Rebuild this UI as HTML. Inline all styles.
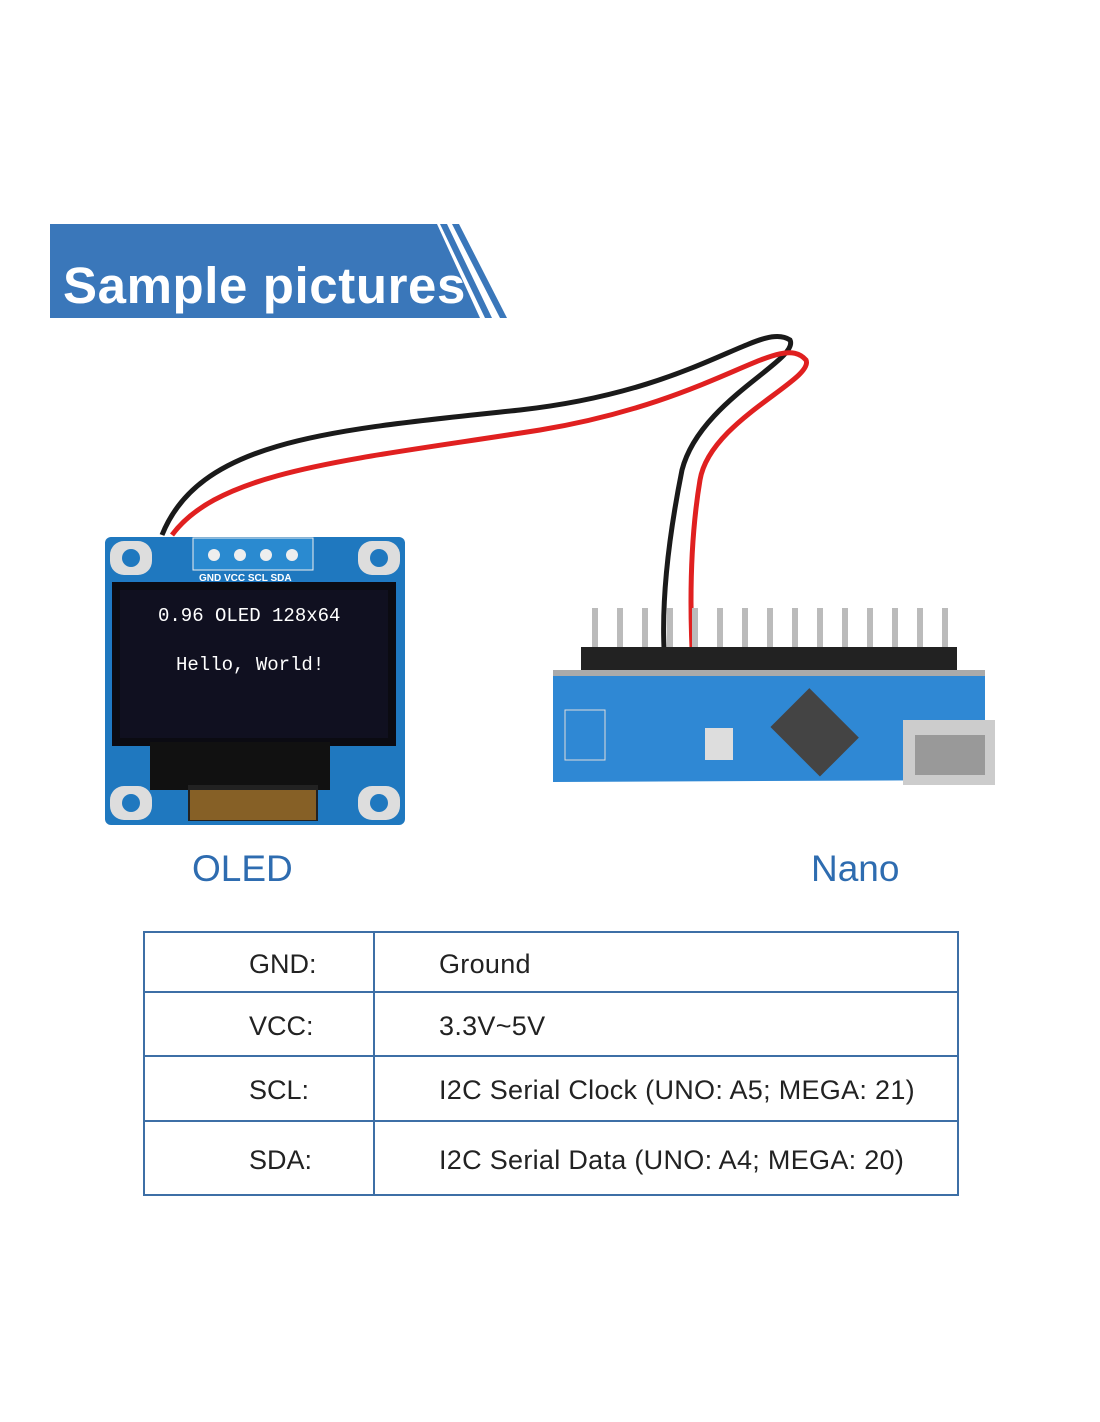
<!DOCTYPE html>
<html><head><meta charset="utf-8"><style>
body{margin:0;width:1100px;height:1422px;background:#fff;position:relative;overflow:hidden;font-family:"Liberation Sans",sans-serif}
.a{position:absolute}
table{position:absolute;left:143px;top:931px;width:816px;height:263px;border-collapse:collapse}
td{border:2px solid #3d6fa6;font-size:27px;color:#222;padding:0;padding-top:4px}
td.l{width:230px;padding-left:104px;box-sizing:border-box}
td.r{padding-left:64px;letter-spacing:0.3px}
</style></head><body>
<svg class="a" style="left:0;top:0" width="1100" height="1422">
<polygon points="50,224 437,224 480,318 50,318" fill="#3a77ba"/>
<polygon points="440,224 447,224 492,318 485,318" fill="#3a77ba"/>
<polygon points="452,224 459,224 507,318 500,318" fill="#3a77ba"/>
<text x="63" y="303" font-family="Liberation Sans" font-weight="bold" font-size="51" letter-spacing="0.6" fill="#fff">Sample pictures</text>
<path d="M162,535 C200,440 330,430 520,410 C700,390 760,320 790,340 C800,360 700,400 682,470 C668,540 662,600 664,648" stroke="#1a1a1a" stroke-width="5" fill="none"/>
<path d="M172,535 C220,470 350,460 540,430 C720,400 780,330 806,360 C815,380 710,420 700,480 C690,540 690,600 692,648" stroke="#e02020" stroke-width="5" fill="none"/>
<rect x="105" y="537" width="300" height="288" rx="6" fill="#1f78bf"/>
<rect x="193" y="538" width="120" height="32" fill="#2a8ad0" stroke="#eee" stroke-width="1"/>
<g fill="#eee"><circle cx="214" cy="555" r="6"/><circle cx="240" cy="555" r="6"/><circle cx="266" cy="555" r="6"/><circle cx="292" cy="555" r="6"/></g>
<g fill="#ddd"><rect x="110" y="541" width="42" height="34" rx="14"/><rect x="358" y="541" width="42" height="34" rx="14"/><rect x="110" y="786" width="42" height="34" rx="14"/><rect x="358" y="786" width="42" height="34" rx="14"/></g>
<g fill="#1f78bf"><circle cx="131" cy="558" r="9"/><circle cx="379" cy="558" r="9"/><circle cx="131" cy="803" r="9"/><circle cx="379" cy="803" r="9"/></g>
<text x="199" y="581" font-size="10" font-weight="bold" fill="#fff" font-family="Liberation Sans">GND VCC SCL SDA</text>
<rect x="112" y="582" width="284" height="164" fill="#0b0b12"/>
<rect x="120" y="590" width="268" height="148" fill="#101020"/>
<rect x="150" y="742" width="180" height="48" fill="#111"/>
<rect x="188" y="785" width="130" height="36" fill="#222"/>
<rect x="190" y="790" width="126" height="30" fill="#c98a2a" opacity=".6"/>
<text x="158" y="621" font-family="Liberation Mono" font-size="19" fill="#fff">0.96 OLED 128x64</text>
<text x="176" y="670" font-family="Liberation Mono" font-size="19" fill="#fff">Hello, World!</text>
<g fill="#bbb">
<rect x="592" y="608" width="6" height="42"/><rect x="617" y="608" width="6" height="42"/><rect x="642" y="608" width="6" height="42"/><rect x="667" y="608" width="6" height="42"/><rect x="692" y="608" width="6" height="42"/><rect x="717" y="608" width="6" height="42"/><rect x="742" y="608" width="6" height="42"/><rect x="767" y="608" width="6" height="42"/><rect x="792" y="608" width="6" height="42"/><rect x="817" y="608" width="6" height="42"/><rect x="842" y="608" width="6" height="42"/><rect x="867" y="608" width="6" height="42"/><rect x="892" y="608" width="6" height="42"/><rect x="917" y="608" width="6" height="42"/><rect x="942" y="608" width="6" height="42"/>
</g>
<rect x="581" y="647" width="376" height="26" fill="#222"/>
<polygon points="553,672 985,670 985,780 553,782" fill="#2f88d4"/>
<rect x="553" y="670" width="432" height="6" fill="#aaa"/>
<rect x="780" y="705" width="70" height="55" fill="#444" transform="rotate(45 815 732)"/>
<rect x="705" y="728" width="28" height="32" fill="#ddd"/>
<rect x="903" y="720" width="92" height="65" fill="#ccc"/>
<rect x="915" y="735" width="70" height="40" fill="#999"/>
<rect x="565" y="710" width="40" height="50" fill="none" stroke="#ddd"/>
</svg>
<div class="a" style="left:192px;top:848px;font-size:37px;color:#2e6cb0">OLED</div>
<div class="a" style="left:811px;top:848px;font-size:37px;color:#2e6cb0">Nano</div>
<table>
<tr style="height:60px"><td class="l">GND:</td><td class="r">Ground</td></tr>
<tr style="height:64px"><td class="l">VCC:</td><td class="r">3.3V~5V</td></tr>
<tr style="height:65px"><td class="l">SCL:</td><td class="r">I2C Serial Clock (UNO: A5; MEGA: 21)</td></tr>
<tr style="height:74px"><td class="l">SDA:</td><td class="r">I2C Serial Data (UNO: A4; MEGA: 20)</td></tr>
</table>
</body></html>
